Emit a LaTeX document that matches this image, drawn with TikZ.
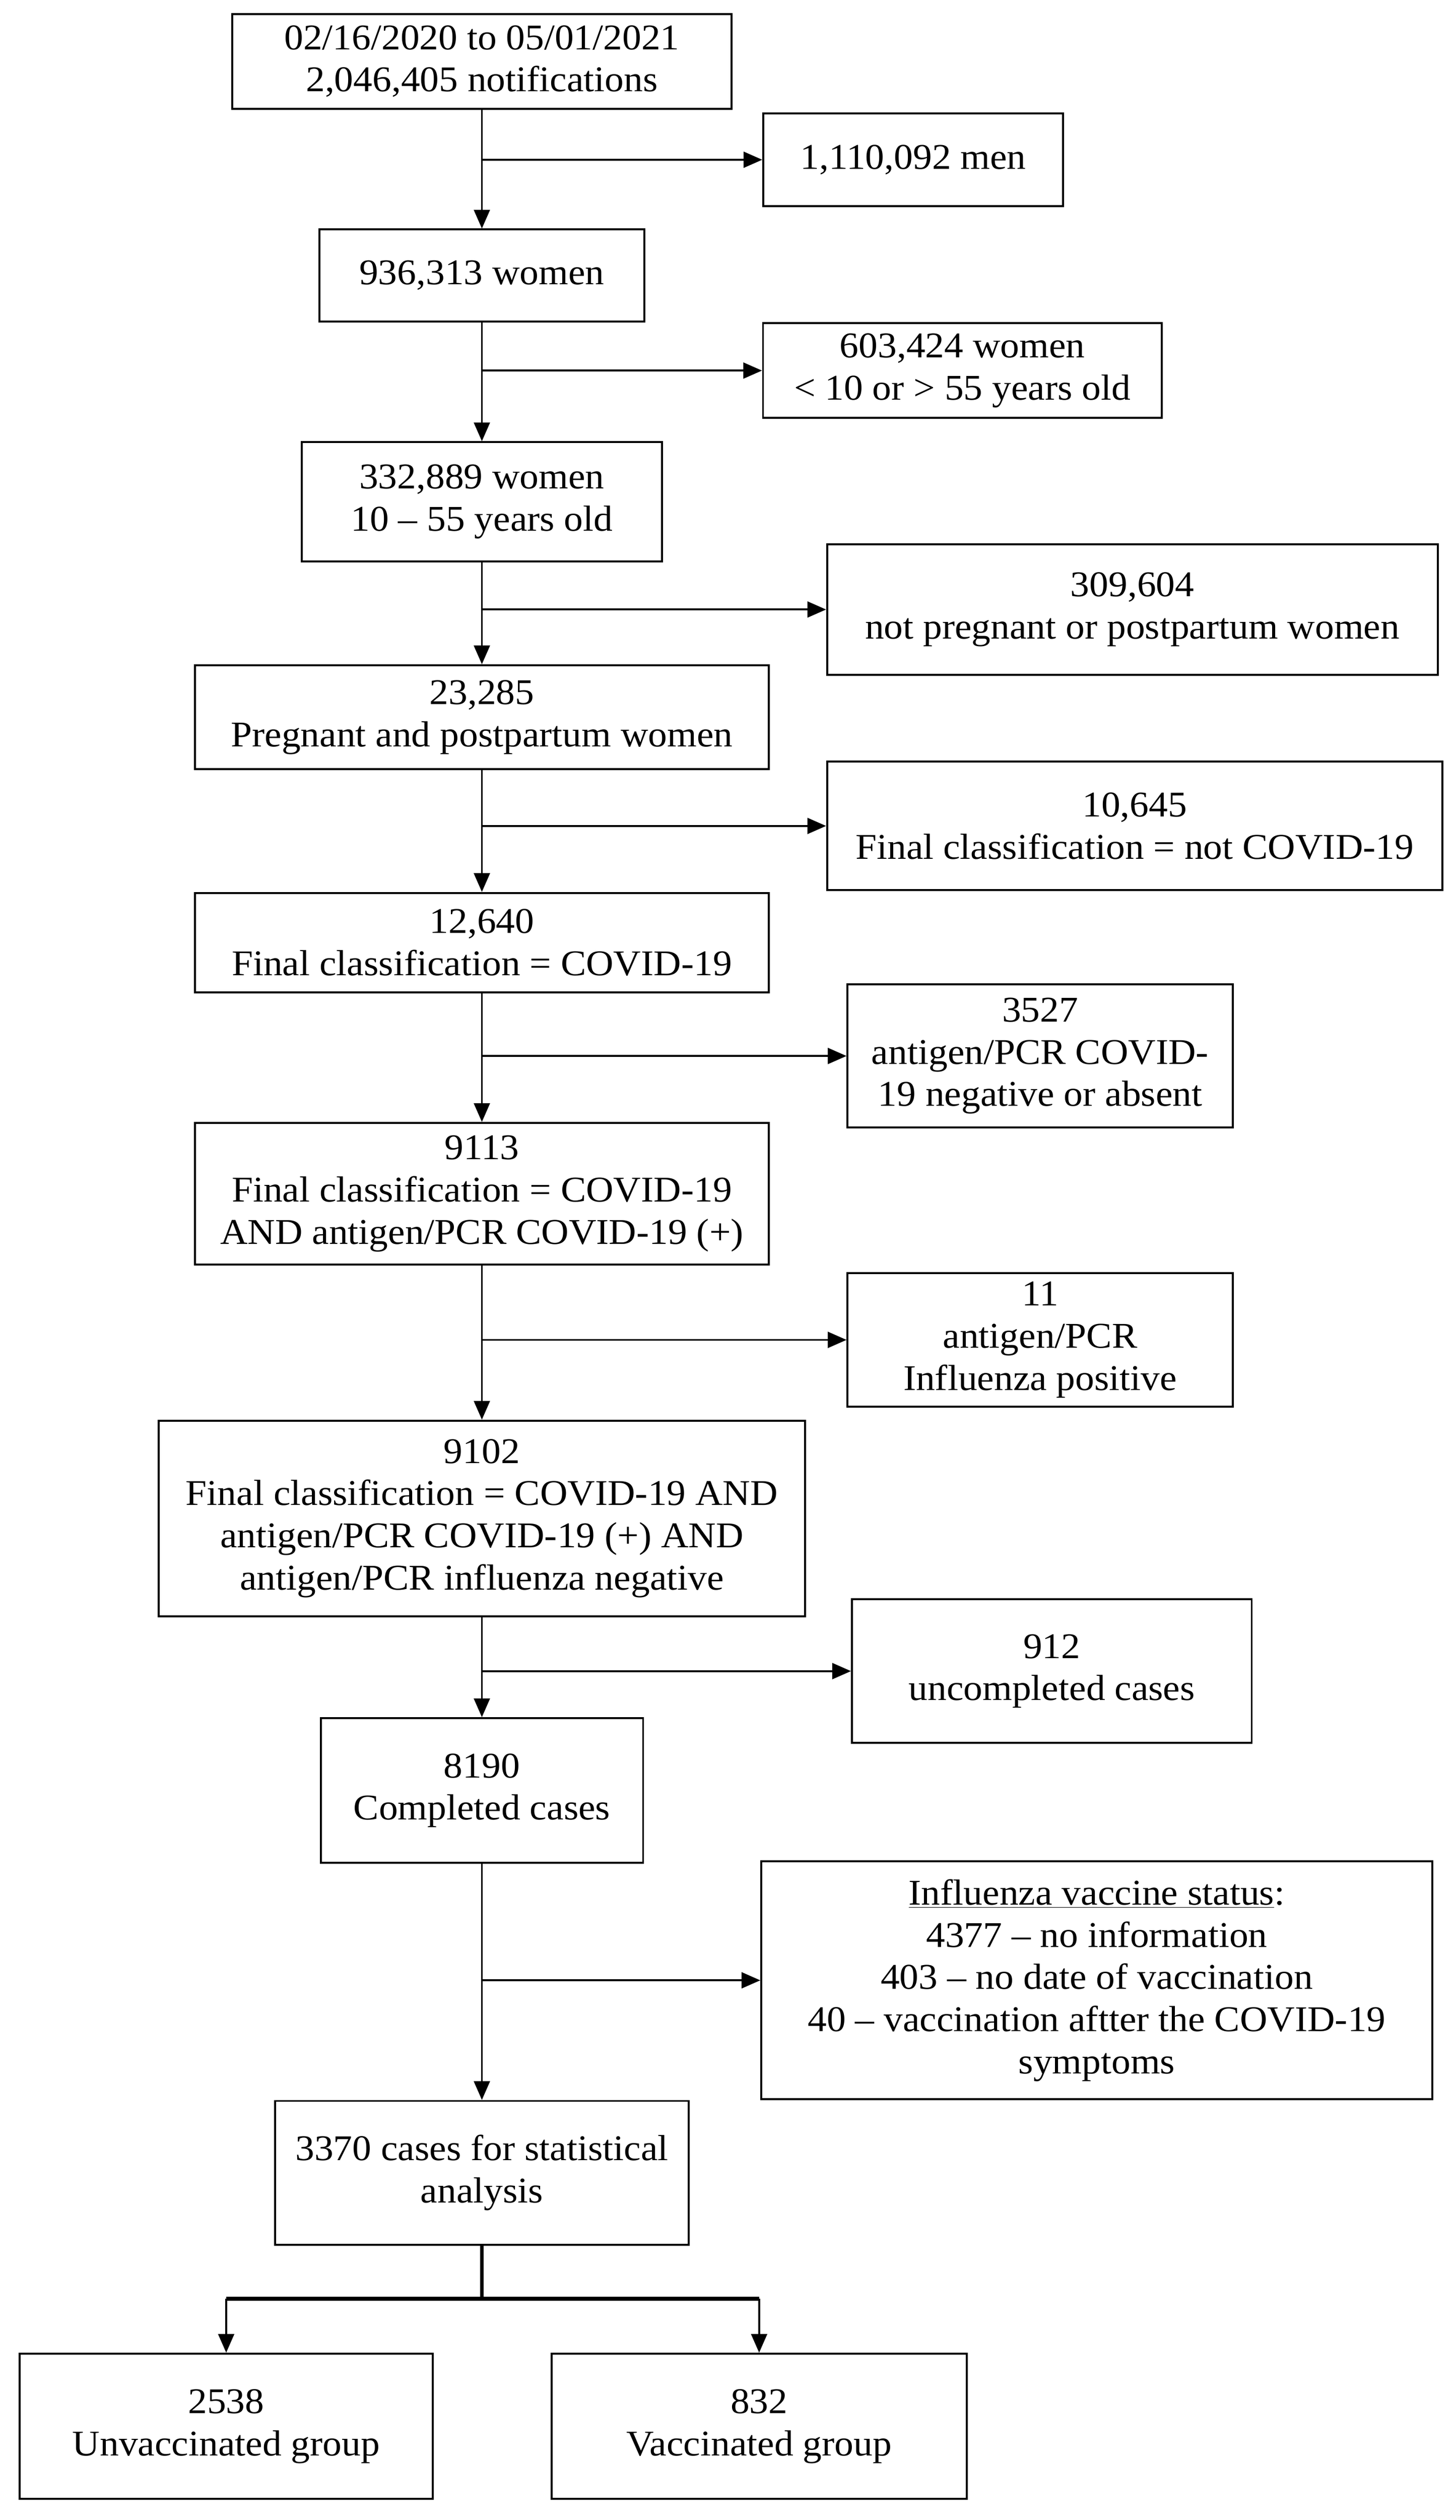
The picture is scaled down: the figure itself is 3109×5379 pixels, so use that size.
\documentclass[tikz,border=0pt]{standalone}
\usepackage{fontspec}
\setmainfont{Liberation Serif}[FakeStretch=1.05]
\usetikzlibrary{arrows.meta}
\begin{document}
\begin{tikzpicture}[x=0.01cm,y=-0.01cm,
  box/.style 2 args={draw, rectangle, line width=1.2pt, align=center, inner sep=0pt,
    minimum width=#1, minimum height=#2, font=\fontsize{22}{25.6}\selectfont},
  arr/.style={line width=1.15pt, -{Triangle[length=0.4cm,width=0.34cm]}},
  thick line/.style={line width=2.4pt}]
\useasboundingbox (0,0) rectangle (3109,5379);
\fill[white] (0,0) rectangle (3109,5379);

\node[box={10.66cm}{2.02cm}] (b1) at (1029,131) {02/16/2020 to 05/01/2021\\2,046,405 notifications};
\node[box={6.40cm}{1.98cm}] (men) at (1950,341) {1,110,092 men};
\node[box={6.94cm}{1.96cm}] (women) at (1029,588) {936,313 women};
\node[box={8.51cm}{2.02cm}] (s603) at (2055,791) {603,424 women\\< 10 or > 55 years old};
\node[box={7.68cm}{2.54cm}] (w332) at (1029,1071) {332,889 women\\10 – 55 years old};
\node[box={13.03cm}{2.78cm}] (s309) at (2418,1301) {309,604\\not pregnant or postpartum women};
\node[box={12.24cm}{2.22cm}] (p23) at (1029,1531) {23,285\\Pregnant and postpartum women};
\node[box={13.13cm}{2.74cm}] (s10) at (2423,1763) {10,645\\Final classification = not COVID-19};
\node[box={12.24cm}{2.12cm}] (c12) at (1029,2012) {12,640\\Final classification = COVID-19};
\node[box={8.22cm}{3.05cm}] (s3527) at (2221,2254) {3527\\antigen/PCR COVID-\\19 negative or absent};
\node[box={12.24cm}{3.02cm}] (c9113) at (1029,2548) {9113\\Final classification = COVID-19\\AND antigen/PCR COVID-19 (+)};
\node[box={8.22cm}{2.85cm}] (s11) at (2221,2860) {11\\antigen/PCR\\Influenza positive};
\node[box={13.80cm}{4.17cm}] (c9102) at (1029,3241) {9102\\Final classification = COVID-19 AND\\antigen/PCR COVID-19 (+) AND\\antigen/PCR influenza negative};
\node[box={8.53cm}{3.06cm}] (s912) at (2246,3567) {912\\uncompleted cases};
\node[box={6.88cm}{3.09cm}] (c8190) at (1029,3822) {8190\\Completed cases};
\node[box={14.32cm}{5.08cm}] (svac) at (2342,4227) {\underline{Influenza vaccine status}:\\4377 – no information\\403 – no date of vaccination\\40 – vaccination aftter the COVID-19\\symptoms};
\node[box={8.82cm}{3.07cm}] (c3370) at (1029,4638) {3370 cases for statistical\\analysis};
\node[box={8.82cm}{3.10cm}] (unv) at (483,5179) {2538\\Unvaccinated group};
\node[box={8.86cm}{3.10cm}] (vac) at (1621,5179) {832\\Vaccinated group};

\coordinate (br) at (1029,4907);
\coordinate (brl) at (483,4907);
\coordinate (brr) at (1621,4907);

% main vertical arrows
\draw[arr] (b1.south) -- (women.north);
\draw[arr] (women.south) -- (w332.north);
\draw[arr] (w332.south) -- (p23.north);
\draw[arr] (p23.south) -- (c12.north);
\draw[arr] (c12.south) -- (c9113.north);
\draw[arr] (c9113.south) -- (c9102.north);
\draw[arr] (c9102.south) -- (c8190.north);
\draw[arr] (c8190.south) -- (c3370.north);

% side arrows
\draw[arr] (b1.south |- men.west) -- (men.west);
\draw[arr] (women.south |- s603.west) -- (s603.west);
\draw[arr] (w332.south |- s309.west) -- (s309.west);
\draw[arr] (p23.south |- s10.west) -- (s10.west);
\draw[arr] (c12.south |- s3527.west) -- (s3527.west);
\draw[arr] (c9113.south |- s11.west) -- (s11.west);
\draw[arr] (c9102.south |- s912.west) -- (s912.west);
\draw[arr] (c8190.south |- svac.west) -- (svac.west);

% final branch
\draw[thick line] (c3370.south) -- (br);
\draw[thick line] (brl) -- (brr);
\draw[arr] (brl) -- (unv.north);
\draw[arr] (brr) -- (vac.north);
\end{tikzpicture}
\end{document}
